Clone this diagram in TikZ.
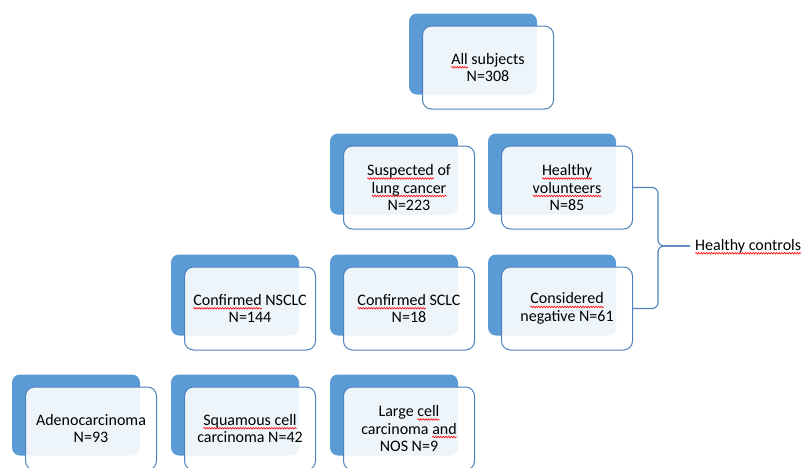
\documentclass[tikz,border=0pt]{standalone}
\usepackage{fontspec}
\setmainfont{Carlito}
\usepackage{tikz}
\usetikzlibrary{backgrounds, decorations.pathmorphing}
\definecolor{backblue}{RGB}{91,155,213}
\definecolor{lineblue}{RGB}{79,129,189}
\newsavebox{\spellbox}
\newcommand{\spell}[1]{\sbox{\spellbox}{#1}\rlap{\tikz[overlay, sharp corners] \draw [red, line width=0.6pt, sharp corners, decorate, decoration={snake, amplitude=0.8pt, segment length=2.6pt}] (0pt,-3pt) -- (\wd\spellbox,-3pt);}\usebox{\spellbox}}

\begin{document}
\begin{tikzpicture}[x=1pt,y=1pt]
\tikzstyle{every node}+=[inner sep=0pt, font=\fontsize{16}{17.5}\selectfont, align=center]
\tikzstyle{back}=[fill=backblue, rounded corners=8pt, minimum width=128pt, minimum height=81pt]
\tikzstyle{front}=[draw=lineblue, line width=1pt, fill=white, fill opacity=0.9, text opacity=1, rounded corners=9pt, minimum width=131pt, minimum height=83pt]
\tikzstyle{link}=[draw=lineblue, line width=1.1pt]
\useasboundingbox [fill=white] (0,0) rectangle (806,-467);
\node [back] (allb) at (473,-54) {};
\node [front] (all) at (488,-67.5) {\spell{All} subjects\\N=308};
\node [back] (suspb) at (394,-174) {};
\node [front] (susp) at (409,-187.5) {\spell{Suspected} of\\\spell{lung cancer}\\N=223};
\node [back] (healb) at (552,-174) {};
\node [front] (heal) at (567,-187.5) {\spell{Healthy}\\\spell{volunteers}\\N=85};
\node [back] (nsclcb) at (235,-295) {};
\node [front] (nsclc) at (250,-308.5) {\spell{Confirmed} NSCLC\\N=144};
\node [back] (sclcb) at (394,-295) {};
\node [front] (sclc) at (409,-308.5) {\spell{Confirmed} SCLC\\N=18};
\node [back] (negb) at (552,-295) {};
\node [front] (neg) at (567,-308.5) {\spell{Considered}\\negative N=61};
\node [back] (adenob) at (76,-415) {};
\node [front] (adeno) at (91,-428.5) {Adenocarcinoma\\N=93};
\node [back] (squamb) at (235,-415) {};
\node [front] (squam) at (250,-428.5) {\spell{Squamous cell}\\carcinoma N=42};
\node [back] (largeb) at (394,-415) {};
\node [front] (large) at (409,-428.5) {Large \spell{cell}\\carcinoma \spell{and}\\NOS N=9};
\node [anchor=west, inner sep=5pt] (ctrl) at (690,-246) {\spell{Healthy controls}};
\coordinate (brace) at (658,-246);
\begin{scope}[on background layer]
\draw [link] (allb.south) -- ++(0,-27) -| (suspb.north);
\draw [link] (allb.south) -- ++(0,-27) -| (healb.north);
\draw [link] (suspb.south) -- ++(0,-27) -| (nsclcb.north);
\draw [link] (suspb.south) -- ++(0,-27) -| (sclcb.north);
\draw [link] (suspb.south) -- ++(0,-27) -| (negb.north);
\draw [link] (nsclcb.south) -- ++(0,-27) -| (adenob.north);
\draw [link] (nsclcb.south) -- ++(0,-27) -| (squamb.north);
\draw [link] (nsclcb.south) -- ++(0,-27) -| (largeb.north);
\end{scope}
\draw [link, rounded corners=6pt] (heal.east) -| (brace) -- (ctrl.west);
\draw [link, rounded corners=6pt] (neg.east) -| (brace) -- (ctrl.west);
\end{tikzpicture}
\end{document}
